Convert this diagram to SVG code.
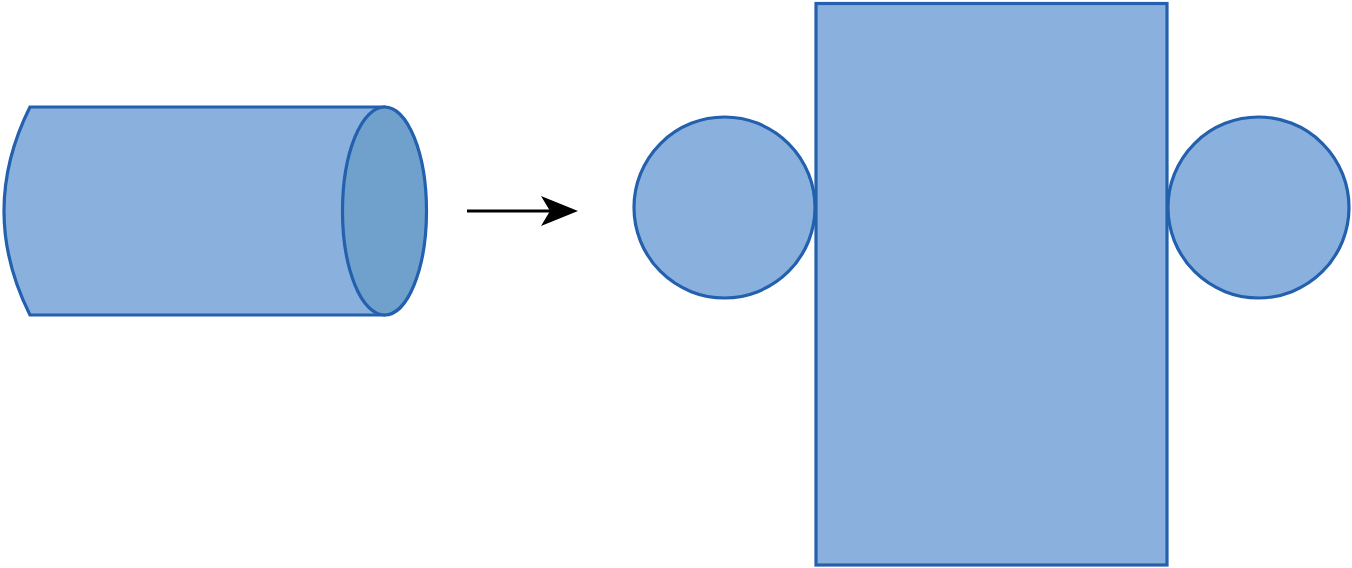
<svg xmlns="http://www.w3.org/2000/svg" width="1352" height="568" viewBox="0 0 1352 568">
<style>
.s{fill:#8AB1DE;stroke:#2360AE;stroke-width:3.2}
.d{fill:#70A1CD;stroke:#2360AE;stroke-width:3.2}
.c{fill:none;stroke:#000;stroke-width:3}
</style>
<defs>
<marker id="ah" markerUnits="userSpaceOnUse" markerWidth="40" markerHeight="40" refX="12" refY="15" orient="auto" viewBox="0 0 40 30">
<path d="M0,0 L37,15 L0,30 L9,15 Z" fill="#000"/>
</marker>
</defs>
<rect width="1352" height="568" fill="#fff"/>
<g id="cylinder">
<path class="s" d="M30,107 L384.5,107 L384.5,315 L30,315 Q-22,211 30,107 Z"/>
<ellipse class="d" cx="384.5" cy="211" rx="42" ry="104"/>
</g>
<g id="connectors">
<line class="c" x1="467" y1="211" x2="553" y2="211" marker-end="url(#ah)"/>
</g>
<g id="circle-left"><circle class="s" cx="724.5" cy="207.5" r="90.5"/></g>
<g id="circle-right"><circle class="s" cx="1258.5" cy="207.5" r="90.5"/></g>
<g id="rect"><rect class="s" x="816" y="3.5" width="351" height="561.5"/></g>
</svg>
